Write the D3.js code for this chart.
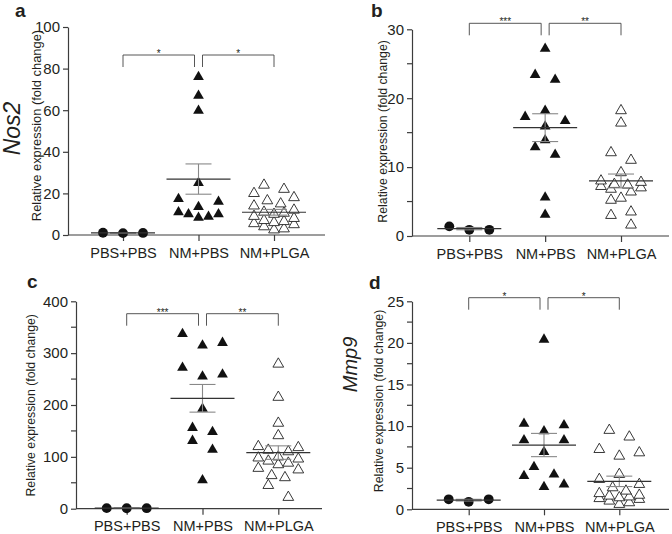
<!DOCTYPE html>
<html><head><meta charset="utf-8">
<script src="https://cdn.jsdelivr.net/npm/d3@7"></script>
<style>
body{margin:0;background:#fff}
svg{display:block}
text{font-family:"Liberation Sans",Arial,Helvetica,sans-serif;fill:#231f20}
</style>
</head><body>
<svg id="chart" width="672" height="534"></svg>
<script>
// ---------- DATA ----------
const categories = ["PBS+PBS", "NM+PBS", "NM+PLGA"];

// Panel a – Nos2
const nos2PBS  = [1.0, 1.1, 0.9];
const nos2NM   = [76, 67, 59.8, 25, 17.3, 16, 13.5, 11, 10, 10, 8.8, 8.3];
const nos2PLGA = [24, 22, 20, 18, 16.5, 15, 14, 12, 11, 10.5, 10, 9, 8, 7, 6.5, 6, 5.5, 5, 4, 3, 2.5];
const nos2Ticks = [0, 20, 40, 60, 80, 100];
const nos2Minor = [];

// Panel b
const bPBS  = [0.9, 1.4, 0.9];
const bNM   = [27.2, 23.4, 22.7, 18.2, 17.3, 16.7, 15.9, 13.9, 12.9, 11.8, 5.6, 3.1];
const bPLGA = [18.2, 16.4, 12.1, 11.0, 9.2, 8.0, 7.8, 7.5, 7.4, 7.2, 7.0, 6.8, 6.4, 5.5, 5.2, 3.5, 3.0, 1.6];
const bTicks = [0, 10, 20, 30];
const bMinor = [5, 15, 25];

// Panel c
const cPBS  = [1, 1.1, 0.9];
const cNM   = [337, 320, 315, 272, 259, 255, 193, 156, 148, 131, 114, 55];
const cPLGA = [279, 215, 165, 141, 120, 118, 113, 110, 100, 98, 96, 92, 88, 85, 78, 75, 64, 60, 45, 22];
const cTicks = [0, 100, 200, 300, 400];
const cMinor = [50, 150, 250, 350];

// Panel d – Mmp9
const mmp9PBS  = [0.9, 1.2, 1.2];
const mmp9NM   = [20.4, 10.3, 10.1, 9.4, 8.3, 8.3, 6.9, 5.1, 4.2, 4.0, 3.0, 2.7];
const mmp9PLGA = [9.5, 8.7, 7.2, 6.8, 6.4, 4.2, 3.6, 3.0, 2.6, 2.2, 1.9, 1.7, 1.6, 1.5, 1.4, 1.3, 1.2, 1.0, 0.8, 0.6];
const mmp9Ticks = [0, 5, 10, 15, 20, 25];
const mmp9Minor = [2.5, 7.5, 12.5, 17.5, 22.5];

const starsA = ["*", "*"];
const starsB = ["***", "**"];
const starsC = ["***", "**"];
const starsD = ["*", "*"];

// ---------- LAYOUT ----------
const panels = [
  {groups:[nos2PBS, nos2NM, nos2PLGA], ticks:nos2Ticks, minor:nos2Minor, stars:starsA,
   left:68, right:325, top:27, bottom:235, catA:123, catB:274, bracketY:55,
   letter:"a", lx:15, ly:17, gene:"Nos2", gx:20, gy:128.5, gsize:23,
   ylx:40.5, yly:125.5, ylsize:12.9},
  {groups:[bPBS, bNM, bPLGA], ticks:bTicks, minor:bMinor, stars:starsB,
   left:412, right:669, top:29.3, bottom:236, catA:469.3, catB:621, bracketY:23.3,
   letter:"b", lx:371, ly:17, gene:null,
   ylx:386.7, yly:131.4, ylsize:12.3},
  {groups:[cPBS, cNM, cPLGA], ticks:cTicks, minor:cMinor, stars:starsC,
   left:76, right:322, top:301.3, bottom:508.7, catA:126.7, catB:278.3, bracketY:313.7,
   letter:"c", lx:27, ly:288, gene:null,
   ylx:34.7, yly:405.3, ylsize:12.3},
  {groups:[mmp9PBS, mmp9NM, mmp9PLGA], ticks:mmp9Ticks, minor:mmp9Minor, stars:starsD,
   left:412, right:669, top:301.3, bottom:509.3, catA:468.7, catB:619.3, bracketY:297.7,
   letter:"d", lx:369, ly:288.5, gene:"Mmp9", gx:357, gy:364.5, gsize:20,
   ylx:383.4, yly:401, ylsize:12.3}
];

const AXIS = "#3c3c3c";
const svg = d3.select("#chart");

const ROWH = 12, MAXROW = 5;
function swarm(values, y, cx) {
  const pts = values.map(v => ({v, y: y(v)})).sort((a, b) => b.y - a.y);
  const rows = [];
  let cur = null;
  for (const p of pts) {
    if (cur && (cur[0].y - p.y) < ROWH && cur.length < MAXROW) cur.push(p);
    else { cur = [p]; rows.push(cur); }
  }
  rows.forEach(r => {
    const n = r.length, step = n > 1 ? Math.min(20, 40 / (n - 1)) : 0;
    const offs = d3.range(n).map(i => (i - (n - 1) / 2) * step)
      .sort((a, b) => Math.abs(a) - Math.abs(b) || b - a);
    r.forEach((p, i) => p.x = cx + offs[i]);
  });
  return pts;
}

const circle = d3.symbol(d3.symbolCircle, 76)();
const tri = d3.symbol(d3.symbolTriangle, 50)();
const triOpen = d3.symbol(d3.symbolTriangle, 50)();

panels.forEach(P => {
  const g = svg.append("g");
  const y = d3.scaleLinear().domain([0, d3.max(P.ticks)]).range([P.bottom, P.top]);
  const x = d3.scalePoint().domain(categories).range([P.catA, P.catB]);

  // y axis
  const ya = g.append("g").attr("transform", `translate(${P.left},0)`)
    .call(d3.axisLeft(y).tickValues(P.ticks).tickSize(5).tickPadding(3).tickSizeOuter(0));
  ya.select(".domain").attr("stroke", AXIS).attr("stroke-width", 1.2);
  ya.selectAll(".tick line").attr("stroke", AXIS).attr("stroke-width", 1.2);
  ya.selectAll(".tick text").attr("font-size", 15).style("font-family", '"Liberation Sans",Arial,sans-serif').attr("fill", "#231f20");
  g.selectAll(".minor").data(P.minor).join("line")
    .attr("x1", P.left - 5).attr("x2", P.left).attr("y1", d => y(d)).attr("y2", d => y(d))
    .attr("stroke", AXIS).attr("stroke-width", 1.2);

  // x axis
  const xa = g.append("g").attr("transform", `translate(0,${P.bottom})`)
    .call(d3.axisBottom(x).tickSize(6).tickPadding(6.5).tickSizeOuter(0));
  xa.select(".domain").attr("d", `M${P.left},0H${P.right}`).attr("stroke", AXIS).attr("stroke-width", 1.2);
  xa.selectAll(".tick line").attr("stroke", AXIS).attr("stroke-width", 1.2);
  xa.selectAll(".tick text").attr("font-size", 14.5).style("font-family", '"Liberation Sans",Arial,sans-serif').attr("fill", "#231f20");

  // points
  P.groups.forEach((vals, gi) => {
    const cx = x(categories[gi]);
    const pts = swarm(vals, y, cx);
    const sel = g.append("g").selectAll("path").data(pts).join("path")
      .attr("transform", d => `translate(${d.x},${d.y})`);
    if (gi === 0) sel.attr("d", circle).attr("fill", "#111");
    else if (gi === 1) sel.attr("d", tri).attr("fill", "#111");
    else sel.attr("d", triOpen).attr("fill", "#fff").attr("stroke", "#222").attr("stroke-width", 0.9);

    // mean and SEM
    const m = d3.mean(vals), sem = d3.deviation(vals) / Math.sqrt(vals.length);
    const lg = g.append("g");
    lg.append("line").attr("x1", cx).attr("x2", cx).attr("y1", y(m + sem)).attr("y2", y(m - sem))
      .attr("stroke", "#888").attr("stroke-width", 1.1);
    [m + sem, m - sem].forEach(v => lg.append("line")
      .attr("x1", cx - 13).attr("x2", cx + 13).attr("y1", y(v)).attr("y2", y(v))
      .attr("stroke", "#888").attr("stroke-width", 1.1));
    lg.append("line").attr("x1", cx - 32).attr("x2", cx + 32).attr("y1", y(m)).attr("y2", y(m))
      .attr("stroke", "#333").attr("stroke-width", 1.2);
  });

  // significance brackets
  const c0 = x(categories[0]), c1 = x(categories[1]), c2 = x(categories[2]);
  const br = [[c0, c1 - 4], [c1 + 4, c2]];
  br.forEach((b, i) => {
    g.append("path").attr("d", `M${b[0]},${P.bracketY + 12}V${P.bracketY}H${b[1]}V${P.bracketY + 12}`)
      .attr("fill", "none").attr("stroke", "#444").attr("stroke-width", 0.9);
    g.append("text").attr("x", (b[0] + b[1]) / 2).attr("y", P.bracketY + 2)
      .attr("text-anchor", "middle").attr("font-size", 10).text(P.stars[i]);
  });

  // y label
  g.append("text").attr("transform", `translate(${P.ylx},${P.yly}) rotate(-90)`)
    .attr("text-anchor", "middle").attr("font-size", P.ylsize)
    .text("Relative expression (fold change)");
  if (P.gene) {
    g.append("text").attr("transform", `translate(${P.gx},${P.gy}) rotate(-90)`)
      .attr("text-anchor", "middle").attr("font-size", P.gsize).attr("font-style", "italic")
      .text(P.gene);
  }
  g.append("text").attr("x", P.lx).attr("y", P.ly).attr("font-size", 19).attr("font-weight", "bold")
    .text(P.letter);
});
</script>
</body></html>
